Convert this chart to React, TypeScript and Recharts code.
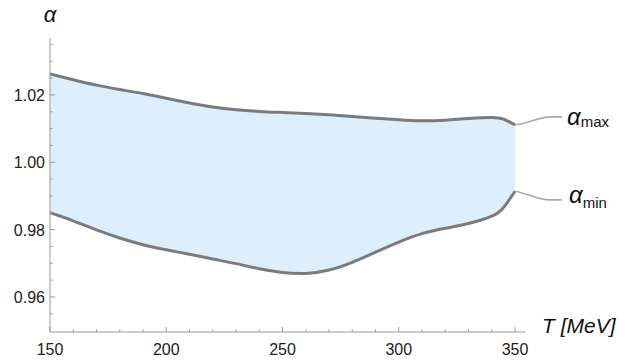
import React from "react";
import {
  ComposedChart,
  Area,
  Line,
  XAxis,
  YAxis,
  Label,
} from "recharts";

// temperature grid (MeV)
const temps = [150, 160, 170, 180, 190, 200, 210, 220, 230, 240, 250, 260, 270, 280, 290, 300, 310, 320, 330, 340, 345, 350];

// alpha_max / alpha_min
const alphaMax = [1.0262, 1.0245, 1.0229, 1.0216, 1.0204, 1.019, 1.0176, 1.0164, 1.0156, 1.0151, 1.0148, 1.0145, 1.0141, 1.0136, 1.0131, 1.0126, 1.0123, 1.0125, 1.013, 1.0133, 1.0128, 1.0111];
const alphaMin = [0.985, 0.9826, 0.9799, 0.9775, 0.9755, 0.974, 0.9727, 0.9713, 0.9699, 0.9684, 0.9673, 0.967, 0.968, 0.9703, 0.9733, 0.9763, 0.9788, 0.9804, 0.9818, 0.984, 0.9865, 0.9914];

const xTicks = [150, 160, 170, 180, 190, 200, 210, 220, 230, 240, 250, 260, 270, 280, 290, 300, 310, 320, 330, 340, 350];
const xMajor = [150, 200, 250, 300, 350];
const yTicks = [0.955, 0.96, 0.965, 0.97, 0.975, 0.98, 0.985, 0.99, 0.995, 1.0, 1.005, 1.01, 1.015, 1.02, 1.025, 1.03, 1.035];
const yMajor = ["0.96", "0.98", "1.00", "1.02"];

const data = temps.map((t, i) => ({ t, hi: alphaMax[i], lo: alphaMin[i] }));

const AXIS = "#9a9a9a";
const CURVE = "#7b7b7b";
const FONT = "'Liberation Sans', Arial, sans-serif";

const XTick = (props: any) => {
  const { x, y, payload } = props;
  const major = xMajor.includes(payload.value);
  return (
    <g>
      <line x1={x} x2={x} y1={y} y2={y - (major ? 5 : 2.7)} stroke={AXIS} strokeWidth={1} />
      {major && (
        <text x={x} y={y + 23} textAnchor="middle" fontSize={16} fontFamily={FONT} fill="#222">
          {payload.value}
        </text>
      )}
    </g>
  );
};

const YTick = (props: any) => {
  const { x, y, payload } = props;
  const txt = Number(payload.value).toFixed(2);
  const major = yMajor.includes(txt) && Math.abs(Number(txt) - payload.value) < 1e-9;
  return (
    <g>
      <line x1={x} x2={x + (major ? 5 : 2.7)} y1={y} y2={y} stroke={AXIS} strokeWidth={1} />
      {major && (
        <text x={x - 5} y={y + 6} textAnchor="end" fontSize={16} fontFamily={FONT} fill="#222">
          {txt}
        </text>
      )}
    </g>
  );
};

const endLabel = (sub: string, up: boolean) => (props: any) => {
  const { x, y, index } = props;
  if (index !== temps.length - 1) return null;
  const d = up ? "M0,0 C12,-1 24,-8 36,-8 L47,-8" : "M0,0 C12,2 22,8.6 34,8.6 L47,8.6";
  const base = up ? 0 : 12;
  return (
    <g transform={`translate(${x},${y})`}>
      <path d={d} fill="none" stroke="#aaaaaa" strokeWidth={1.6} />
      <text x={up ? 52 : 54} y={base} fontFamily={FONT} fill="#111">
        <tspan fontSize={24} fontStyle="italic">α</tspan>
        <tspan fontSize={15} dy={up ? 2 : 5}>{sub}</tspan>
      </text>
    </g>
  );
};

export default function App() {
  return (
    <div style={{ position: "absolute", left: 0, top: 0, background: "#fff" }}>
      <ComposedChart
        width={631}
        height={360}
        data={data}
        margin={{ top: 38, right: 106, bottom: 0, left: 0 }}
      >
        <XAxis
          dataKey="t"
          type="number"
          domain={[150, 354.3]}
          ticks={xTicks}
          interval={0}
          stroke={AXIS}
          tickLine={false}
          tickSize={0}
          tickMargin={0}
          height={28}
          tick={<XTick />}
          allowDataOverflow
        >
          <Label
            content={(p: any) => {
              const vb = p.viewBox;
              return (
                <text x={vb.x + vb.width + 17} y={vb.y + 1} fontSize={21} fontStyle="italic" fontFamily={FONT} fill="#111">
                  T [MeV]
                </text>
              );
            }}
          />
        </XAxis>
        <YAxis
          type="number"
          domain={[0.9496, 1.0369]}
          ticks={yTicks}
          interval={0}
          stroke={AXIS}
          tickLine={false}
          tickSize={0}
          tickMargin={0}
          width={50}
          tick={<YTick />}
          allowDataOverflow
        >
          <Label
            content={(p: any) => {
              const vb = p.viewBox;
              return (
                <text x={vb.x + vb.width} y={vb.y - 16} textAnchor="middle" fontSize={22} fontStyle="italic" fontFamily={FONT} fill="#111">
                  α
                </text>
              );
            }}
          />
        </YAxis>
        <Area
          type="natural"
          dataKey={(d: any) => [d.lo, d.hi]}
          stroke="none"
          fill="#ddeefd"
          fillOpacity={1}
          isAnimationActive={false}
        />
        <Line type="natural" dataKey="hi" stroke={CURVE} strokeWidth={3} dot={false} isAnimationActive={false} label={endLabel("max", true)} />
        <Line type="natural" dataKey="lo" stroke={CURVE} strokeWidth={3} dot={false} isAnimationActive={false} label={endLabel("min", false)} />
      </ComposedChart>
    </div>
  );
}
